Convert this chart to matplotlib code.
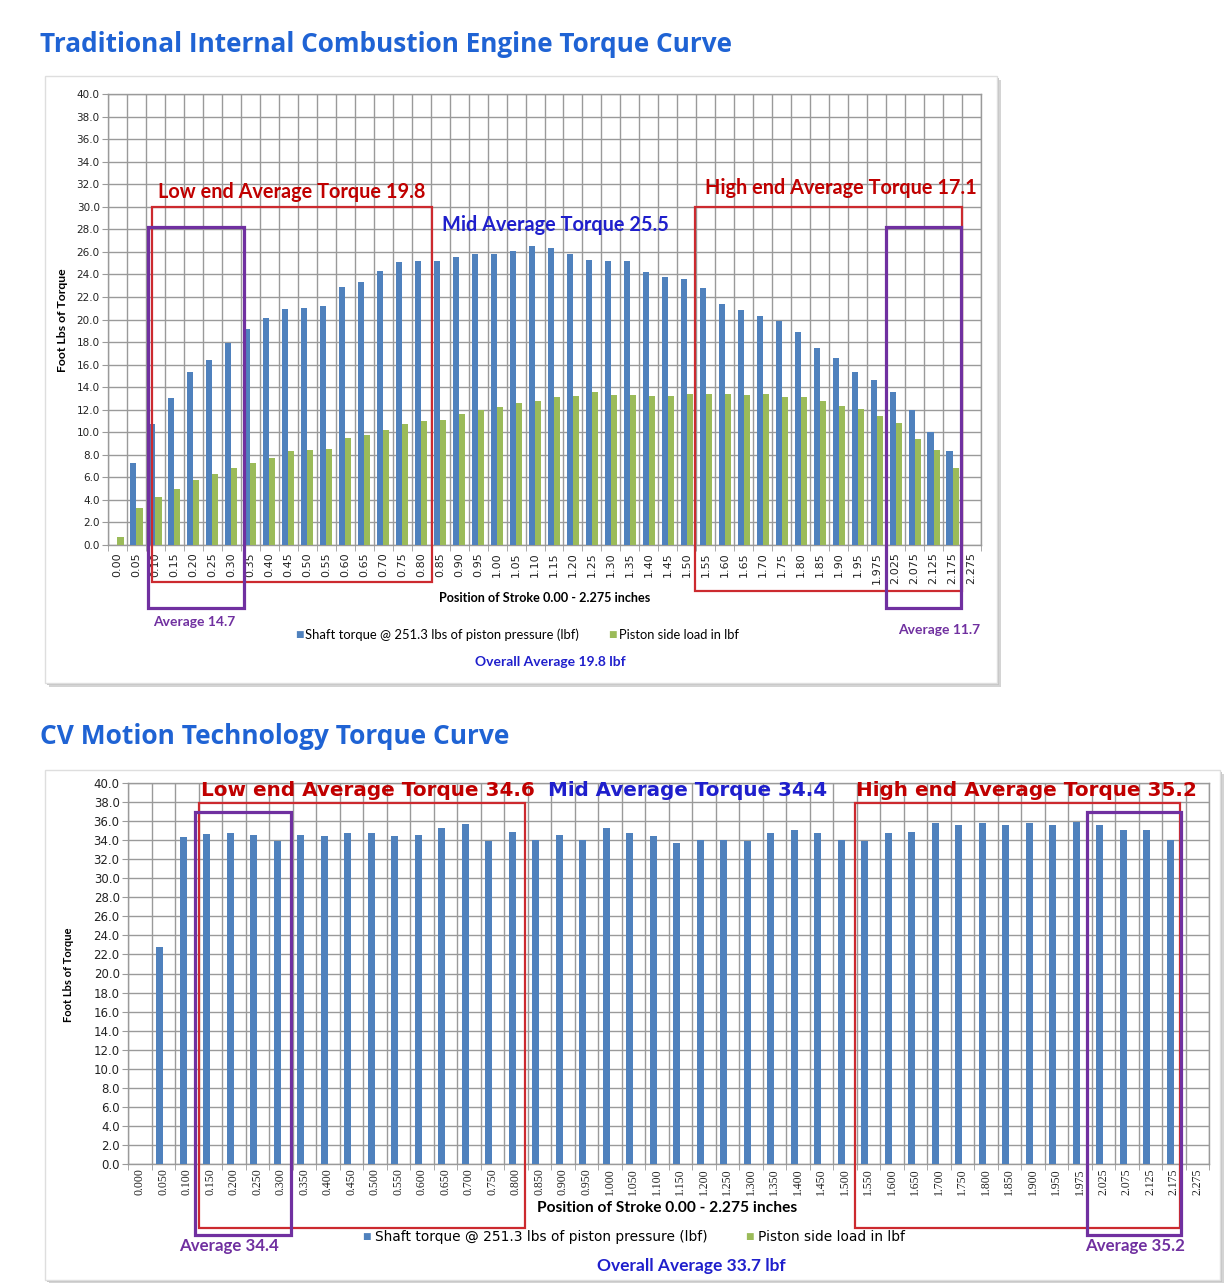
# Two torque curves (traditional ICE vs CV Motion) redrawn as Excel-style bar charts
# with the red / purple averaging boxes laid over them.
# out: out.png
import matplotlib

matplotlib.use("Agg")
import matplotlib.pyplot as plt
import numpy as np
from matplotlib.patches import Rectangle
from matplotlib.ticker import FixedLocator, MultipleLocator

W, H = 1224, 1283
BLUE, GREEN = "#4f81bd", "#9bbb59"
RED, RED_TXT, PURPLE, MID_BLUE = "#cc2a2f", "#c00000", "#7030a0", "#1f1fcc"
HEAD = "#1f63d4"
GRID = "#9a9a9a"

TOP_LABELS = [f"{v:.2f}" for v in np.round(np.arange(0, 1.951, 0.05), 2)] + [
    "1.975", "2.025", "2.075", "2.125", "2.175", "2.275"]
BOT_LABELS = [f"{v:.3f}" for v in np.round(np.arange(0, 1.951, 0.05), 2)] + [
    "1.975", "2.025", "2.075", "2.125", "2.175", "2.275"]

# traditional engine: shaft torque and piston side load
ice_torque = [0.0, 7.3, 10.7, 13.0, 15.3, 16.4, 17.9, 19.2, 20.1, 20.9,
              21.0, 21.2, 22.9, 23.3, 24.3, 25.1, 25.2, 25.2, 25.5, 25.8,
              25.8, 26.1, 26.5, 26.3, 25.8, 25.3, 25.2, 25.2, 24.2, 23.8,
              23.6, 22.8, 21.4, 20.8, 20.3, 19.9, 18.9, 17.5, 16.6, 15.3,
              14.6, 13.6, 12.0, 10.0, 8.3, 0.0]
ice_side = [0.7, 3.3, 4.3, 5.0, 5.8, 6.3, 6.8, 7.3, 7.7, 8.3,
            8.4, 8.5, 9.5, 9.8, 10.2, 10.7, 11.0, 11.1, 11.6, 12.0,
            12.2, 12.6, 12.8, 13.1, 13.2, 13.6, 13.3, 13.3, 13.2, 13.2,
            13.4, 13.4, 13.4, 13.3, 13.4, 13.1, 13.1, 12.8, 12.3, 12.1,
            11.4, 10.8, 9.4, 8.4, 6.8, 0.0]
# CV motion: shaft torque only
cv_torque = [0.0, 22.8, 34.3, 34.6, 34.8, 34.5, 33.9, 34.5, 34.4, 34.8,
             34.8, 34.4, 34.5, 35.3, 35.7, 33.9, 34.9, 34.0, 34.5, 34.0,
             35.3, 34.8, 34.4, 33.7, 34.0, 34.0, 33.9, 34.8, 35.1, 34.7,
             34.0, 33.9, 34.7, 34.9, 35.8, 35.6, 35.8, 35.6, 35.8, 35.6,
             35.9, 35.6, 35.1, 35.1, 34.0, 0.0]
cv_side = [0.0] * len(cv_torque)

# averaging boxes: (x0, x1, y0, y1) in category / torque units
ICE_BOXES = [((1.80, 16.59, -3.3, 30.0), RED, 1.6), ((30.43, 44.48, -4.1, 30.0), RED, 1.6),
             ((1.62, 6.68, -5.6, 28.2), PURPLE, 2.3), ((40.47, 44.44, -5.6, 28.2), PURPLE, 2.3)]
CV_BOXES = [((2.50, 16.39, -6.7, 37.9), RED, 1.6), ((30.44, 44.27, -6.7, 37.9), RED, 1.6),
            ((2.37, 6.42, -7.45, 37.0), PURPLE, 2.3), ((40.31, 44.31, -7.45, 37.0), PURPLE, 2.3)]


def fig_text(fig, px, py, s, **kw):
    fig.text(px / W, 1 - py / H, s, **kw)


def panel(fig, x0, y0, x1, y1):
    # white card with a soft grey shadow, like the pasted screenshot
    for off, col in [(4, "#d4d4d4"), (2, "#c4c4c4")]:
        fig.patches.append(Rectangle(((x0 + off) / W, 1 - (y1 + off) / H), (x1 - x0) / W,
                                     (y1 - y0) / H, transform=fig.transFigure,
                                     facecolor=col, edgecolor="none", zorder=-3))
    fig.patches.append(Rectangle((x0 / W, 1 - y1 / H), (x1 - x0) / W, (y1 - y0) / H,
                                 transform=fig.transFigure, facecolor="white",
                                 edgecolor="#dedede", lw=1, zorder=-2))


def bar_chart(ax, labels, torque, side, xfont, xsize, ysize, w, xpad):
    x = np.arange(len(labels))
    ax.bar(x - w / 2, torque, w, color=BLUE, zorder=3)
    ax.bar(x + w / 2, side, w, color=GREEN, zorder=3)
    ax.set_xlim(-0.5, len(labels) - 0.5)
    ax.set_ylim(0, 40)
    ax.patch.set_alpha(0)
    ax.yaxis.set_major_locator(MultipleLocator(2))
    ax.yaxis.set_major_formatter(lambda v, _: f"{v:.1f}")
    ax.set_xticks(x)
    ax.set_xticklabels(labels, rotation=90, family=xfont, fontsize=xsize, color="#222222")
    ax.xaxis.set_minor_locator(FixedLocator(np.arange(len(labels) + 1) - 0.5))
    ax.tick_params(axis="x", which="major", length=0, pad=xpad)
    ax.tick_params(axis="x", which="minor", length=4, color=GRID)
    ax.tick_params(axis="y", length=4, color=GRID, labelsize=ysize, labelcolor="#222222", pad=2)
    ax.grid(True, which="minor", axis="x", color=GRID, lw=1.0, zorder=0)
    ax.grid(True, which="major", axis="y", color=GRID, lw=1.0, zorder=0)
    for sp in ax.spines.values():
        sp.set_color(GRID)
        sp.set_linewidth(1.0)


def boxes(ax, spec):
    for (x0, x1, y0, y1), col, lw in spec:
        ax.add_patch(Rectangle((x0, y0), x1 - x0, y1 - y0, fill=False, edgecolor=col,
                               lw=lw, clip_on=False, zorder=5))


def main():
    fig = plt.figure(figsize=(W / 100, H / 100), dpi=100)
    fig.patch.set_facecolor("white")

    panel(fig, 45, 76, 997, 683)
    panel(fig, 45, 770, 1220, 1280)

    fig_text(fig, 40, 45, "Traditional Internal Combustion Engine Torque Curve", family="Open Sans",
             weight="bold", fontsize=18.8, color=HEAD, va="center")
    fig_text(fig, 40, 737, "CV Motion Technology Torque Curve", family="Open Sans",
             weight="bold", fontsize=19, color=HEAD, va="center")

    # --- traditional engine
    ax1 = fig.add_axes([108 / W, 1 - 545 / H, 873 / W, 451 / H])
    bar_chart(ax1, TOP_LABELS, ice_torque, ice_side, "DejaVu Sans", 8, 7.5, 0.32, 5)
    boxes(ax1, ICE_BOXES)
    fig_text(fig, 62, 320, "Foot Lbs of Torque", family="Lato", weight="bold", fontsize=8.8,
             rotation=90, ha="center", va="center")
    fig_text(fig, 158, 192, "Low end Average Torque 19.8", family="Lato", weight="bold",
             fontsize=14.3, color=RED_TXT, va="center")
    fig_text(fig, 442, 225, "Mid Average Torque 25.5", family="Lato", weight="bold",
             fontsize=14.3, color=MID_BLUE, va="center")
    fig_text(fig, 705, 188, "High end Average Torque 17.1", family="Lato", weight="bold",
             fontsize=14.3, color=RED_TXT, va="center")
    fig_text(fig, 545, 598, "Position of Stroke 0.00 - 2.275 inches", family="Lato",
             weight="bold", fontsize=9.1, ha="center", va="center")
    fig_text(fig, 194, 622, "Average 14.7", family="Lato", weight="bold", fontsize=10,
             color=PURPLE, ha="center", va="center")
    fig_text(fig, 939, 630, "Average 11.7", family="Lato", weight="bold", fontsize=10,
             color=PURPLE, ha="center", va="center")
    fig_text(fig, 295, 635, "\u25a0", fontsize=6.5, color=BLUE, va="center")
    fig_text(fig, 305, 635, "Shaft torque @ 251.3 lbs of piston pressure (lbf)", family="Lato",
             fontsize=9.4, va="center")
    fig_text(fig, 608, 635, "\u25a0", fontsize=6.5, color=GREEN, va="center")
    fig_text(fig, 619, 635, "Piston side load in lbf", family="Lato", fontsize=9.3, va="center")
    fig_text(fig, 550, 662, "Overall Average 19.8 lbf", family="Lato", weight="bold", fontsize=10,
             color=MID_BLUE, ha="center", va="center")

    # --- CV motion
    ax2 = fig.add_axes([128 / W, 1 - 1164 / H, 1081 / W, 381 / H])
    bar_chart(ax2, BOT_LABELS, cv_torque, cv_side, "Liberation Serif", 8.5, 8.5, 0.3, 3)
    boxes(ax2, CV_BOXES)
    fig_text(fig, 68, 975, "Foot Lbs of Torque", family="Lato", weight="bold", fontsize=8,
             rotation=90, ha="center", va="center")
    fig_text(fig, 201, 791, "Low end Average Torque 34.6", family="DejaVu Sans", weight="bold",
             fontsize=14.4, color=RED_TXT, va="center")
    fig_text(fig, 548, 791, "Mid Average Torque 34.4", family="DejaVu Sans", weight="bold",
             fontsize=14.3, color=MID_BLUE, va="center")
    fig_text(fig, 856, 790, "High end Average Torque 35.2", family="DejaVu Sans", weight="bold",
             fontsize=14.4, color=RED_TXT, va="center")
    fig_text(fig, 667, 1208, "Position of Stroke 0.00 - 2.275 inches", family="Lato",
             weight="bold", fontsize=11.2, ha="center", va="center")
    fig_text(fig, 229, 1246, "Average 34.4", family="Lato", weight="bold", fontsize=12.2,
             color=PURPLE, ha="center", va="center")
    fig_text(fig, 1135, 1246, "Average 35.2", family="Lato", weight="bold", fontsize=12.2,
             color=PURPLE, ha="center", va="center")
    fig_text(fig, 362, 1237, "\u25a0", fontsize=6.5, color=BLUE, va="center")
    fig_text(fig, 375, 1237, "Shaft torque @ 251.3 lbs of piston pressure (lbf)",
             family="DejaVu Sans", fontsize=9.9, va="center")
    fig_text(fig, 745, 1237, "\u25a0", fontsize=6.5, color=GREEN, va="center")
    fig_text(fig, 758, 1237, "Piston side load in lbf", family="DejaVu Sans", fontsize=9.9,
             va="center")
    fig_text(fig, 691, 1266, "Overall Average 33.7 lbf", family="Lato", weight="bold",
             fontsize=12.5, color=MID_BLUE, ha="center", va="center")

    fig.savefig("out.png", dpi=100)
    plt.close(fig)


if __name__ == "__main__":
    main()
